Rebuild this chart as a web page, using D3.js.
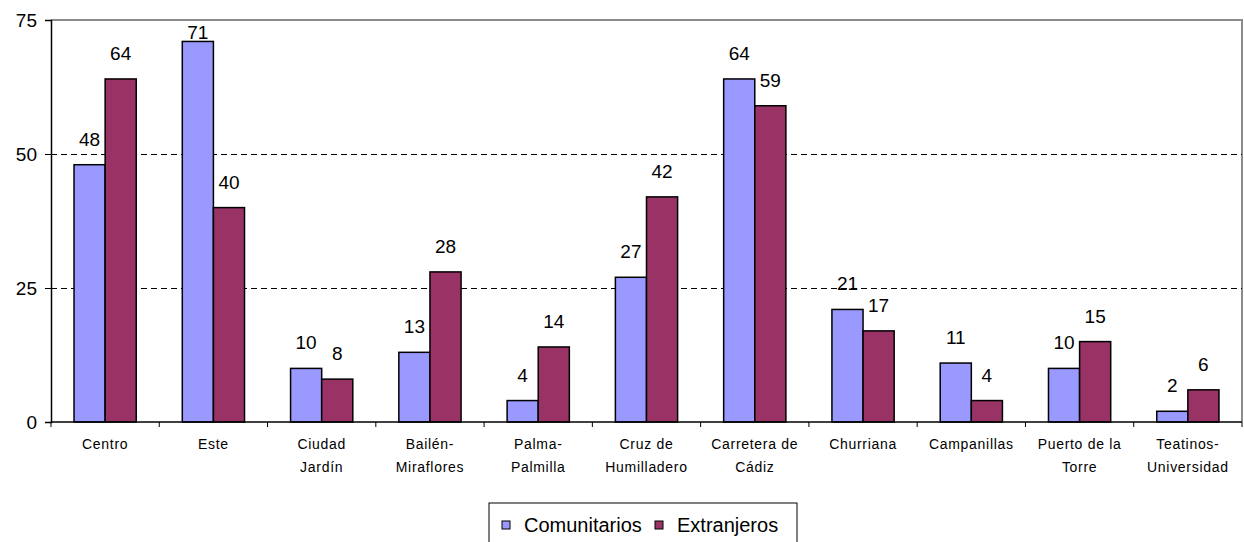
<!DOCTYPE html>
<html>
<head>
<meta charset="utf-8">
<script src="https://cdn.jsdelivr.net/npm/d3@7"></script>
<style>
  body { margin: 0; background: #fff; }
  svg { display: block; font-family: "Liberation Sans", Arial, sans-serif; }
</style>
</head>
<body>
<div id="chart"></div>
<script>
// distritos (dos lineas por etiqueta)
const districts = [
    ["Centro"], ["Este"], ["Ciudad", "Jardín"], ["Bailén-", "Miraflores"],
    ["Palma-", "Palmilla"], ["Cruz de", "Humilladero"], ["Carretera de", "Cádiz"],
    ["Churriana"], ["Campanillas"], ["Puerto de la", "Torre"], ["Teatinos-", "Universidad"]
];
const comunitarios = [48, 71, 10, 13, 4, 27, 64, 21, 11, 10, 2];
const extranjeros = [64, 40, 8, 28, 14, 42, 59, 17, 4, 15, 6];
const seriesNames = ["Comunitarios", "Extranjeros"];
const yTicks = [0, 25, 50, 75];

const W = 1244, H = 542;
const margin = {top: 20, right: 2, bottom: 120, left: 51};
const width = W - margin.left - margin.right;
const height = H - margin.top - margin.bottom;
const colors = ["#9999ff", "#993366"];

const svg = d3.select("#chart").append("svg")
    .attr("width", W).attr("height", H);
const g = svg.append("g").attr("transform", `translate(${margin.left},${margin.top})`);

const x = d3.scaleBand().domain(d3.range(districts.length)).range([0, width]).padding(0);
const x1 = d3.scaleBand().domain([0, 1]).range([0, x.bandwidth()]).paddingOuter(0.74).paddingInner(0);
const y = d3.scaleLinear().domain([0, 75]).range([height, 0]);

// marco gris (arriba y derecha)
g.append("path")
    .attr("d", `M0,${y(75)}H${width}V${height}`)
    .attr("fill", "none").attr("stroke", "#8c8c8c").attr("stroke-width", 2);

// lineas de division discontinuas
g.selectAll(".grid").data([25, 50]).enter().append("line")
    .attr("x1", 0).attr("x2", width)
    .attr("y1", d => Math.round(y(d)) + 0.5).attr("y2", d => Math.round(y(d)) + 0.5)
    .attr("stroke", "#000").attr("stroke-dasharray", "6,4").attr("stroke-width", 1);

const data = districts.map((d, i) => [comunitarios[i], extranjeros[i]]);

const groups = g.selectAll(".grp").data(data).enter().append("g")
    .attr("transform", (d, i) => `translate(${x(i)},0)`);

groups.selectAll("rect").data(d => d).enter().append("rect")
    .attr("x", (d, j) => x1(j))
    .attr("width", x1.bandwidth())
    .attr("y", d => y(d))
    .attr("height", d => height - y(d))
    .attr("fill", (d, j) => colors[j])
    .attr("stroke", "#000").attr("stroke-width", 1.5);

groups.selectAll(".lbl").data(d => d).enter().append("text")
    .attr("x", (d, j) => x1(j) + x1.bandwidth() / 2)
    .attr("y", d => Math.max(y(d) - 19, 19))
    .attr("text-anchor", "middle")
    .attr("font-size", 19)
    .text(d => d);

// eje y
const yAxis = d3.axisLeft(y).tickValues(yTicks).tickSize(6).tickPadding(8);
g.append("g").call(yAxis)
    .call(a => a.select(".domain").attr("stroke-width", 1.5))
    .call(a => a.selectAll("text").attr("font-size", 19).attr("fill", "#000")
        .style("font-family", "Liberation Sans, Arial, sans-serif"));

// eje x + marcas entre categorias
g.append("line").attr("x1", 0).attr("x2", width).attr("y1", height).attr("y2", height)
    .attr("stroke", "#000").attr("stroke-width", 1.5);
g.selectAll(".xt").data(d3.range(districts.length + 1)).enter().append("line")
    .attr("x1", i => i * x.step()).attr("x2", i => i * x.step())
    .attr("y1", height).attr("y2", height + 5)
    .attr("stroke", "#000").attr("stroke-width", 1);

const xl = g.selectAll(".xl").data(districts).enter().append("text")
    .attr("text-anchor", "middle")
    .attr("font-size", 14)
    .attr("letter-spacing", 0.7)
    .attr("transform", (d, i) => `translate(${x(i) + x.bandwidth() / 2},${height + 27})`);
xl.selectAll("tspan").data(d => d).enter().append("tspan")
    .attr("x", 0).attr("dy", (d, k) => k === 0 ? 0 : 23)
    .text(d => d);

// leyenda
const leg = svg.append("g").attr("transform", "translate(489,503)");
leg.append("rect").attr("width", 308).attr("height", 45)
    .attr("fill", "#fff").attr("stroke", "#000").attr("stroke-width", 1);
const legX = [13, 166];
seriesNames.forEach((s, i) => {
    leg.append("rect").attr("x", legX[i]).attr("y", 18).attr("width", 8).attr("height", 8)
        .attr("fill", colors[i]).attr("stroke", "#000").attr("stroke-width", 1);
    leg.append("text").attr("x", legX[i] + 22).attr("y", 29)
        .attr("font-size", 20).text(s);
});
</script>
</body>
</html>
